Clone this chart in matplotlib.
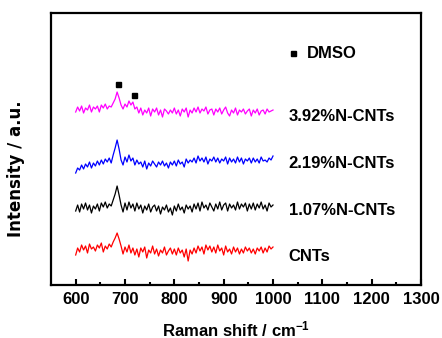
import numpy as np
import matplotlib.pyplot as plt

plt.rcParams['font.family'] = ['Liberation Sans', 'DejaVu Sans']
plt.rcParams['font.weight'] = 'bold'
plt.rcParams['mathtext.fontset'] = 'custom'
plt.rcParams['mathtext.bf'] = 'Liberation Sans:bold'
plt.rcParams['mathtext.rm'] = 'Liberation Sans:bold'

# Raman shift axis (cm^-1), 600..1000 step 4
shift = np.arange(600, 1001, 4)

# spectra (a.u., relative to each baseline)
cnts = [-4, 3, -1, 6, 1, 5, -2, 7, 2, 4,
        0, 6, 3, 8, -1, 5, 2, 7, 4, 9,
        13, 18, 12, 5, -3, 4, -1, 6, -2, 3,
        -4, 2, -6, 3, -1, 4, -7, 1, -2, 5,
        -3, 2, -5, 1, -2, 4, -4, 0, 3, -3,
        2, -4, 3, -2, 1, -6, 2, -10, 1, -3,
        3, -2, 5, 0, 4, -3, 6, 1, 5, -1,
        4, -2, 6, 0, 3, -4, 5, -1, 2, -3,
        4, -1, 3, -3, 2, -2, 4, 0, 3, -2,
        2, -3, 3, 0, 4, -2, 3, -1, 5, 2,
        4]
n107 = [-3, 3, -4, 4, -1, 5, -2, 3, -5, 2,
        -1, 4, -3, 5, 1, 6, 0, 4, 2, 8,
        14, 22, 13, 3, -4, 5, -2, 6, 0, 4,
        -3, 5, -1, 3, -5, 2, -2, 4, -4, 1,
        3, -3, 2, -6, 1, -2, 3, -4, 0, -7,
        2, -3, 4, -2, 1, -5, 3, -1, 2, -4,
        4, -1, 5, -3, 6, 0, 3, -2, 5, 1,
        -3, 4, -1, 6, -2, 3, 5, -3, 4, 0,
        3, -2, 6, -1, 4, 1, 5, -3, 4, -1,
        5, -2, 4, 0, 6, -1, 3, -3, 5, 1,
        3]
n219 = [-9, -4, -6, -1, -5, 0, -3, 2, -4, 1,
        -2, 3, -1, 4, 0, 5, 2, 6, 1, 9,
        16, 24, 15, 4, -1, 7, 2, 9, 3, 6,
        -1, 4, 0, 2, -3, 3, -5, 1, -2, 3,
        0, -3, 2, -1, 3, -2, 1, -4, 2, -1,
        3, -2, 4, 0, 2, -3, 5, 1, 4, 2,
        6, 1, 8, 3, 6, 2, 7, 0, 5, 3,
        7, 2, 6, 1, 5, 3, 7, 0, 6, 2,
        5, 1, 7, 2, 6, 0, 5, 3, 6, 1,
        6, 2, 5, 1, 7, 3, 4, 2, 6, 4,
        8]
n392 = [-1, 4, 0, 5, -2, 3, 1, 6, -1, 4,
        2, 5, -1, 6, 3, 7, 2, 5, 4, 8,
        12, 19, 13, 6, 2, 7, 4, 10, 6, 9,
        2, 4, -2, 3, -4, 1, -2, 3, -5, 2,
        -1, 3, -4, 1, -6, 2, 0, -3, 1, -2,
        3, -3, 1, -5, 2, -1, 3, -6, 1, -2,
        3, -1, 4, -2, 2, 0, 4, -3, 1, 2,
        -4, 2, -1, 3, -3, 1, 4, -2, -5, 1,
        -2, 3, -4, 1, -1, 2, -3, 0, 2, -5,
        1, -2, 2, -4, 0, 1, -3, 2, -1, 0,
        1]

labels = ['CNTs', '1.07%N-CNTs', '2.19%N-CNTs', '3.92%N-CNTs']
offsets = [34, 77, 121, 174]
label_y = [29, 75, 122, 169]
colors = ['#ff0000', '#000000', '#0000ff', '#ff00ff']

# DMSO peaks on top spectrum
dmso_x = [685, 718]
dmso_y = [201, 190]

fig = plt.figure(figsize=(4.42, 3.38), dpi=100)
ax = fig.add_axes([0.1154, 0.1568, 0.8371, 0.8047])

for y, off, ly, c, lab in zip([cnts, n107, n219, n392], offsets, label_y, colors, labels):
    ax.plot(shift, np.array(y) + off, color=c, lw=0.9)
    ax.text(1032, ly, lab, fontsize=12, fontweight='bold', va='center')

ax.plot(dmso_x, dmso_y, 's', color='black', ms=3.6)
ax.plot([1040], [232], 's', color='black', ms=3.6)
ax.text(1068, 232, 'DMSO', fontsize=12, fontweight='bold', va='center')

ax.set_xlim(550, 1300)
ax.set_ylim(0, 272)
ax.set_xticks(np.arange(600, 1301, 100))
ax.set_xticks(np.arange(650, 1300, 100), minor=True)
ax.set_yticks([])
ax.tick_params(axis='x', which='major', direction='in', length=4, width=1.5,
               labelsize=12, pad=5)
ax.tick_params(axis='x', which='minor', direction='in', length=2.5, width=1.5)
for lbl in ax.get_xticklabels():
    lbl.set_fontweight('bold')
for s in ax.spines.values():
    s.set_linewidth(1.6)

ax.set_xlabel('Raman shift / cm$\\mathbf{^{-1}}$', fontsize=12, fontweight='bold', va='baseline')
ax.xaxis.set_label_coords(0.5, -0.1875)
ax.set_ylabel('Intensity / a.u.', fontsize=12, fontweight='bold', family='DejaVu Sans')
ax.yaxis.set_label_coords(-0.07, 0.426)

fig.savefig('out.png', dpi=100)
